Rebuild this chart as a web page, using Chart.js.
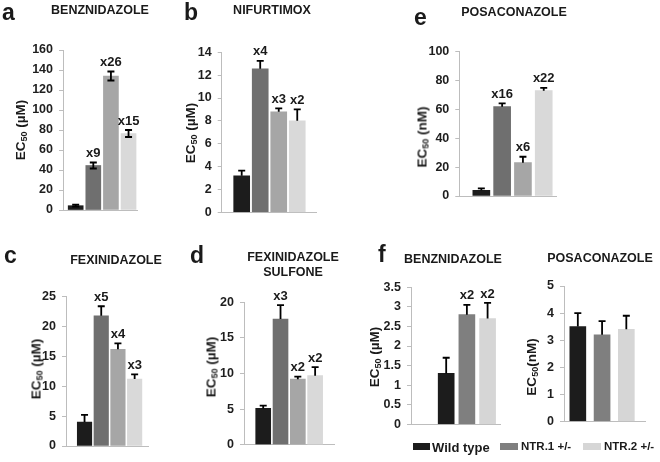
<!DOCTYPE html>
<html><head><meta charset="utf-8">
<script src="https://cdn.jsdelivr.net/npm/chart.js@4.4.0/dist/chart.umd.min.js"></script>
<style>
html,body{margin:0;padding:0;background:#fff;}
#wrap{position:relative;width:660px;height:462px;overflow:hidden;font-family:"Liberation Sans",Arial,sans-serif;color:#1a1a1a;}
#wrap canvas{position:absolute;left:0;top:0;}
.t{position:absolute;font-weight:bold;font-size:12.5px;white-space:nowrap;transform:translate(-50%,-50%);line-height:1;}
.letter{position:absolute;font-weight:bold;font-size:23px;line-height:1;}
.yt{position:absolute;font-weight:bold;font-size:13.5px;white-space:nowrap;transform:translate(-50%,-50%) rotate(-90deg);line-height:1;}
.yt sub{font-size:9px;vertical-align:-2px;}
.sw{position:absolute;height:7px;}
.lg{position:absolute;font-weight:bold;white-space:nowrap;line-height:1;transform:translateY(-50%);}
</style></head>
<body><div id="wrap"></div>
<script>
// ---------- data ----------
const categories = ['P', '1', '2', '3'];
const fCategories = ['Wild type', 'NTR.1 +/-', 'NTR.2 +/-'];

const benzVals = [4.3, 44.5, 134, 76.5];
const benzErr  = [1.0, 3.0, 4.5, 3.5];
const benzFold = ['', 'x9', 'x26', 'x15'];
const benzTicks = [0, 20, 40, 60, 80, 100, 120, 140, 160];

const nifVals = [3.2, 12.55, 8.8, 8.0];
const nifErr  = [0.45, 0.7, 0.3, 1.0];
const nifFold = ['', 'x4', 'x3', 'x2'];
const nifTicks = [0, 2, 4, 6, 8, 10, 12, 14];

const posaVals = [3.9, 61.9, 23.1, 73];
const posaErr  = [1.4, 2.3, 4.1, 2.0];
const posaFold = ['', 'x16', 'x6', 'x22'];
const posaTicks = [0, 20, 40, 60, 80, 100];

const fexVals = [4.0, 21.8, 16.2, 11.2];
const fexErr  = [1.2, 1.6, 1.0, 0.8];
const fexFold = ['', 'x5', 'x4', 'x3'];
const fexTicks = [0, 5, 10, 15, 20, 25];

const sulfVals = [5.1, 17.65, 9.2, 9.7];
const sulfErr  = [0.4, 1.95, 0.35, 1.2];
const sulfFold = ['', 'x3', 'x2', 'x2'];
const sulfTicks = [0, 5, 10, 15, 20];

const ntrBenzVals = [1.3, 2.8, 2.7];
const ntrBenzErr  = [0.4, 0.25, 0.4];
const ntrBenzFold = ['', 'x2', 'x2'];
const ntrBenzTicks = [0, 0.5, 1, 1.5, 2, 2.5, 3, 3.5];

const ntrPosaVals = [3.5, 3.2, 3.4];
const ntrPosaErr  = [0.5, 0.5, 0.5];
const ntrPosaFold = ['', '', ''];
const ntrPosaTicks = [0, 1, 2, 3, 4, 5];

const catColors = ['#1c1c1c', '#6f6f6f', '#a6a6a6', '#d9d9d9'];
const fColors = ['#1c1c1c', '#7f7f7f', '#d6d6d6'];

// ---------- layout ----------
const FONT = '"Liberation Sans", Arial, sans-serif';
const AXIS = '#bdbdbd';
const wrap = document.getElementById('wrap');

function errPlugin(p) {
  return {
    id: 'errFold',
    afterDatasetsDraw(chart) {
      const ctx = chart.ctx, y = chart.scales.y;
      const meta = chart.getDatasetMeta(0);
      ctx.save();
      ctx.strokeStyle = '#000';
      ctx.lineWidth = 1.8;
      ctx.fillStyle = '#1a1a1a';
      ctx.font = 'bold 13px ' + FONT;
      ctx.textAlign = 'center';
      ctx.textBaseline = 'middle';
      const cap = 3.5;
      p.values.forEach((v, i) => {
        const e = p.errors[i];
        const px = meta.data[i].x;
        const yTop = y.getPixelForValue(v + e);
        const yLow = p.both ? y.getPixelForValue(v - e) : y.getPixelForValue(v);
        ctx.beginPath();
        ctx.moveTo(px, yLow); ctx.lineTo(px, yTop);
        ctx.moveTo(px - cap, yTop); ctx.lineTo(px + cap, yTop);
        if (p.both) { ctx.moveTo(px - cap, yLow); ctx.lineTo(px + cap, yLow); }
        ctx.stroke();
        if (p.fold[i]) ctx.fillText(p.fold[i], px, yTop - 9);
      });
      ctx.restore();
    }
  };
}

function makePanel(p) {
  const cv = document.createElement('canvas');
  cv.width = 660; cv.height = 462;
  wrap.appendChild(cv);
  const yW = 45, xH = 10;
  new Chart(cv, {
    type: 'bar',
    data: {
      datasets: [{
        data: p.values.map((v, i) => ({ x: i, y: v })),
        backgroundColor: p.colors,
        borderWidth: 0,
        barThickness: p.barW
      }]
    },
    options: {
      responsive: false,
      animation: false,
      events: [],
      layout: { padding: { left: p.L - yW, top: p.T, right: 660 - p.R, bottom: 462 - p.B - xH } },
      plugins: { legend: { display: false }, tooltip: { enabled: false } },
      scales: {
        x: {
          type: 'linear', min: p.xMin, max: p.xMax, offset: false,
          afterBuildTicks: s => { s.ticks = p.cats.map((c, i) => ({ value: i })); },
          afterFit: s => { s.height = xH; },
          grid: { display: false },
          border: { display: true, color: AXIS, width: 1 },
          ticks: {
            display: p.showX, autoSkip: false, maxRotation: 0, padding: p.xPad,
            color: '#1a1a1a', font: { family: FONT, size: 13, weight: 'bold' },
            callback: v => (p.cats[v] !== undefined ? p.cats[v] : '')
          }
        },
        y: {
          min: 0, max: p.yTicks[p.yTicks.length - 1],
          afterBuildTicks: s => { s.ticks = p.yTicks.map(v => ({ value: v })); },
          afterFit: s => { s.width = yW; },
          grid: { display: true, drawOnChartArea: false, drawTicks: true, tickLength: 4, color: AXIS },
          border: { display: true, color: AXIS, width: 1 },
          ticks: {
            padding: 6, color: '#1e1e1e', font: { family: FONT, size: 12.5, weight: 'bold' },
            callback: v => String(v)
          }
        }
      }
    },
    plugins: [errPlugin(p)]
  });
}

const panels = [
  { values: benzVals, errors: benzErr, fold: benzFold, yTicks: benzTicks, cats: categories, colors: catColors, both: true,
    L: 63, R: 137, T: 50, B: 210, xMin: -0.72, xMax: 3.48, barW: 15, xPad: 1, showX: true },
  { values: nifVals, errors: nifErr, fold: nifFold, yTicks: nifTicks, cats: categories, colors: catColors, both: false,
    L: 221.7, R: 316.7, T: 52.3, B: 212.3, xMin: -1.08, xMax: 4.05, barW: 16, xPad: 0, showX: true },
  { values: posaVals, errors: posaErr, fold: posaFold, yTicks: posaTicks, cats: categories, colors: catColors, both: false,
    L: 459.3, R: 556, T: 51.7, B: 196, xMin: -1.06, xMax: 3.59, barW: 17, xPad: 7, showX: true },
  { values: fexVals, errors: fexErr, fold: fexFold, yTicks: fexTicks, cats: categories, colors: catColors, both: false,
    L: 66, R: 148, T: 296.7, B: 446, xMin: -1.11, xMax: 3.8, barW: 14.5, xPad: 0, showX: true },
  { values: sulfVals, errors: sulfErr, fold: sulfFold, yTicks: sulfTicks, cats: categories, colors: catColors, both: false,
    L: 244, R: 334, T: 302.3, B: 444.7, xMin: -1.11, xMax: 4.09, barW: 15, xPad: 4, showX: true },
  { values: ntrBenzVals, errors: ntrBenzErr, fold: ntrBenzFold, yTicks: ntrBenzTicks, cats: fCategories, colors: fColors, both: false,
    L: 411, R: 500, T: 287.3, B: 424.3, xMin: -1.7, xMax: 2.6, barW: 16, xPad: 0, showX: false },
  { values: ntrPosaVals, errors: ntrPosaErr, fold: ntrPosaFold, yTicks: ntrPosaTicks, cats: fCategories, colors: fColors, both: false,
    L: 564, R: 645, T: 286, B: 421.3, xMin: -0.57, xMax: 2.77, barW: 16, xPad: 0, showX: false }
];
panels.forEach(makePanel);

// ---------- text ----------
function add(cls, html, x, y, extra) {
  const d = document.createElement('div');
  d.className = cls; d.innerHTML = html;
  d.style.left = x + 'px'; d.style.top = y + 'px';
  if (extra) Object.assign(d.style, extra);
  wrap.appendChild(d);
}
const letters = [['a', 2, 0.5], ['b', 184, 1.2], ['e', 414, 5.5], ['c', 4, 243.5], ['d', 190, 243.5], ['f', 378, 242.5]];
letters.forEach(l => add('letter', l[0], l[1], l[2]));

const titles = [
  ['BENZNIDAZOLE', 100, 10], ['NIFURTIMOX', 272, 10], ['POSACONAZOLE', 514, 12],
  ['FEXINIDAZOLE', 116, 260], ['FEXINIDAZOLE', 293, 257], ['SULFONE', 293, 272],
  ['BENZNIDAZOLE', 453, 259], ['POSACONAZOLE', 600, 258]
];
titles.forEach(t => add('t', t[0], t[1], t[2]));

const um = 'EC<sub>50</sub> (µM)', nm = 'EC<sub>50</sub> (nM)';
const yTitles = [[um, 21, 130], [um, 191, 133], [nm, 423, 137], [um, 37, 369], [um, 212, 367], [um, 375, 357], ['EC<sub>50</sub>(nM)', 532, 367]];
yTitles.forEach(t => add('yt', t[0], t[1], t[2]));

// legend for panel f
const legendPos = [[413, 17, 432, 13], [500, 18, 521, 11.5], [583, 18, 604, 11.5]];
fCategories.forEach((c, i) => {
  const lp = legendPos[i];
  add('sw', '', lp[0], 443, { width: lp[1] + 'px', background: fColors[i] });
  add('lg', c, lp[2], 447, { fontSize: lp[3] + 'px' });
});
</script>
</body></html>
